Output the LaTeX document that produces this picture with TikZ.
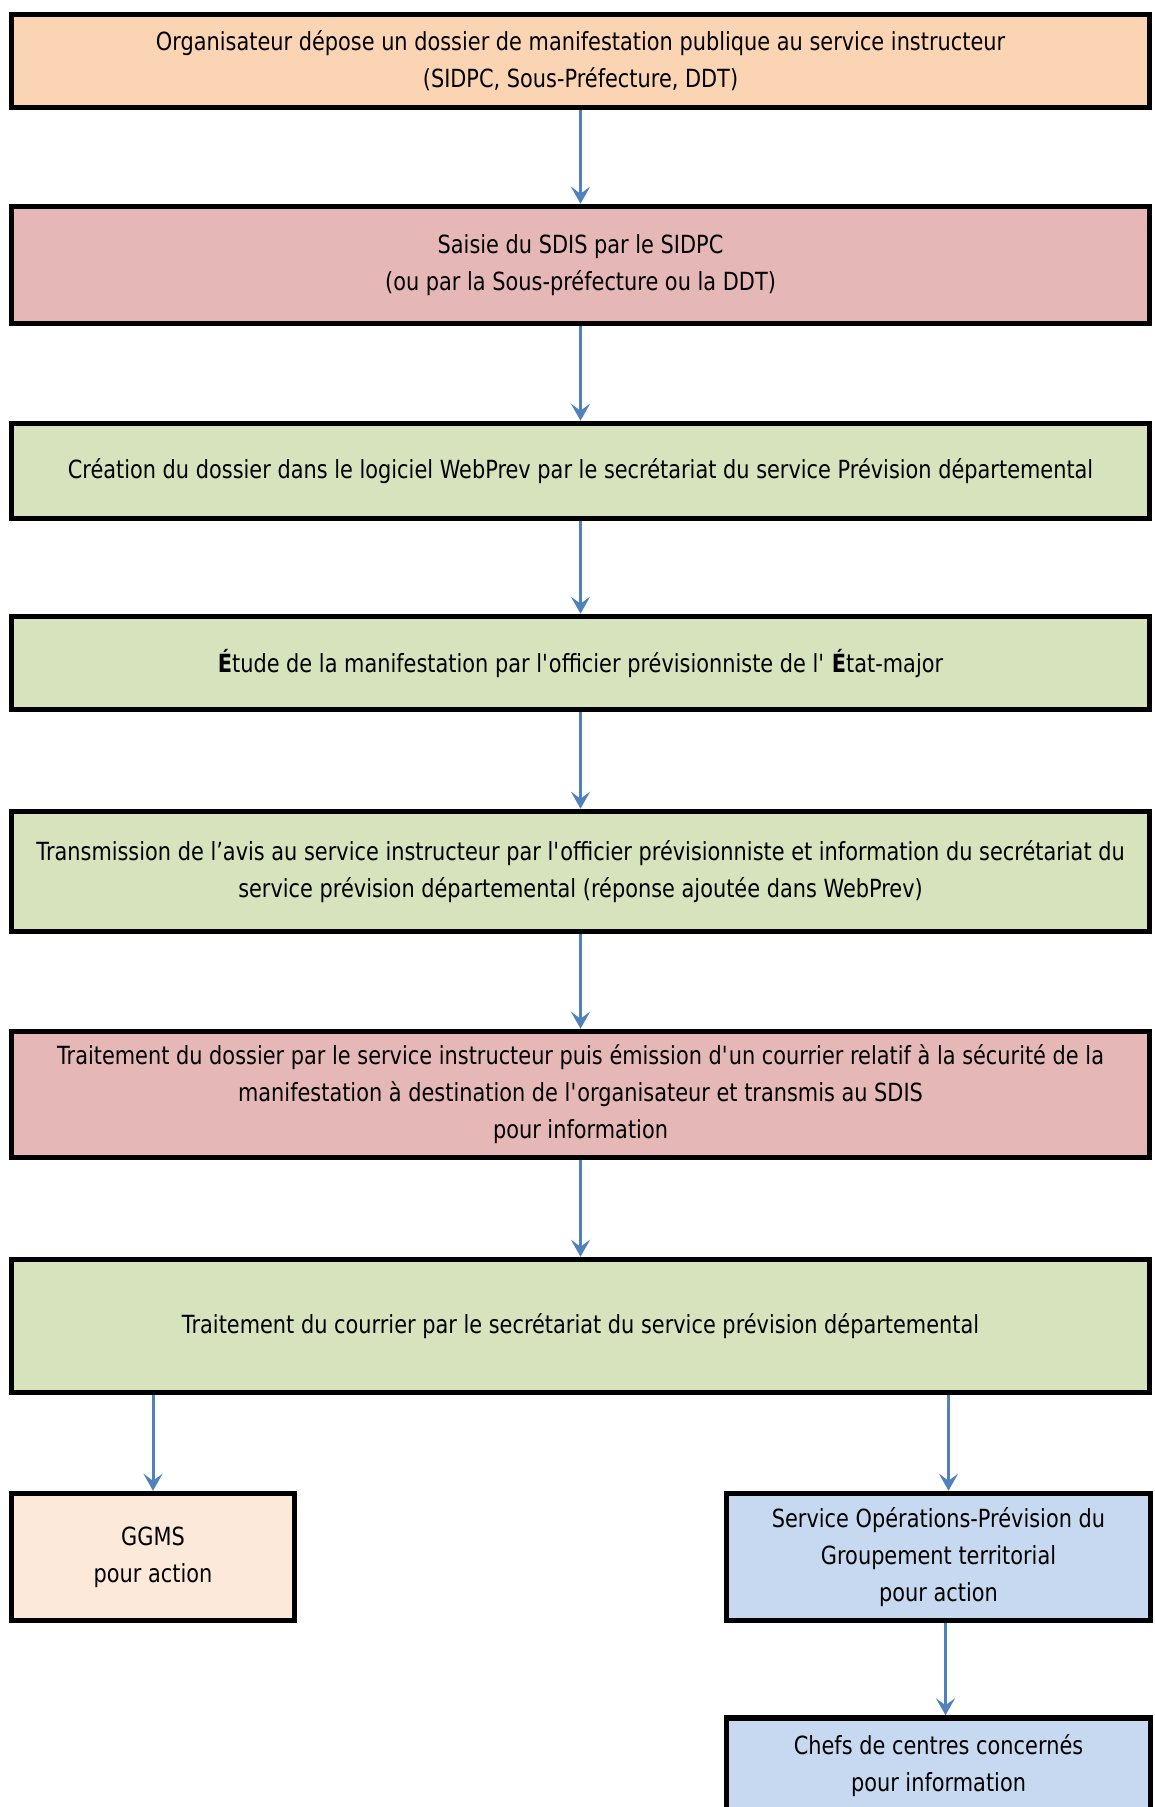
\documentclass[tikz,border=0pt]{standalone}
\usepackage{fontspec}
\setmainfont{DejaVu Sans}[FakeStretch=0.835]
\usetikzlibrary{arrows.meta}
\definecolor{peach}{RGB}{251,212,180}
\definecolor{lightpeach}{RGB}{253,233,217}
\definecolor{rose}{RGB}{229,184,183}
\definecolor{sage}{RGB}{214,227,188}
\definecolor{sky}{RGB}{198,217,241}
\definecolor{arrowblue}{RGB}{79,129,189}
\newcommand\sq{\textquotesingle}

\begin{document}
\begin{tikzpicture}[x=1pt, y=-1pt,
  box/.style={draw, line width=5.5pt, minimum width=1138pt, inner sep=0pt, align=center, font=\fontsize{25}{37}\selectfont},
  arr/.style={-{Stealth[length=17pt, width=19pt, inset=7pt]}, line width=3pt, arrowblue}]
\useasboundingbox (0,0) rectangle (1154,1807);
\node[box, fill=peach, minimum height=93pt] (depot) at (580.5,61) {Organisateur dépose un dossier de manifestation publique au service instructeur\\(SIDPC, Sous-Préfecture, DDT)};
\node[box, fill=rose, minimum height=117pt] (saisie) at (580.5,265) {Saisie du SDIS par le SIDPC\\(ou par la Sous-préfecture ou la DDT)};
\node[box, fill=sage, minimum height=95pt] (creation) at (580.5,471) {Création du dossier dans le logiciel WebPrev par le secrétariat du service Prévision départemental};
\node[box, fill=sage, minimum height=93pt] (etude) at (580.5,663) {\textbf{É}tude de la manifestation par l\sq officier prévisionniste de l\sq{} \textbf{É}tat-major};
\node[box, fill=sage, minimum height=120pt] (avis) at (580.5,871.5) {Transmission de l’avis au service instructeur par l\sq officier prévisionniste et information du secrétariat du\\service prévision départemental (réponse ajoutée dans WebPrev)};
\node[box, fill=rose, minimum height=126pt] (courrier) at (580.5,1094.5) {Traitement du dossier par le service instructeur puis émission d\sq un courrier relatif à la sécurité de la\\manifestation à destination de l\sq organisateur et transmis au SDIS\\pour information};
\node[box, fill=sage, minimum height=133pt] (secretariat) at (580.5,1326) {Traitement du courrier par le secrétariat du service prévision départemental};
\node[box, fill=lightpeach, minimum width=283pt, minimum height=127pt] (ggms) at (153,1557) {GGMS\\pour action};
\node[box, fill=sky, minimum width=424pt, minimum height=127pt] (groupement) at (938.5,1557) {Service Opérations-Prévision du\\Groupement territorial\\pour action};
\node[box, fill=sky, minimum width=424pt, minimum height=95pt] (chefs) at (938.5,1765.5) {Chefs de centres concernés\\pour information};
\draw[arr] (depot) -- (saisie);
\draw[arr] (saisie) -- (creation);
\draw[arr] (creation) -- (etude);
\draw[arr] (etude) -- (avis);
\draw[arr] (avis) -- (courrier);
\draw[arr] (courrier) -- (secretariat);
\draw[arr] (ggms.north |- secretariat.south) -- (ggms.north);
\draw[arr] ([xshift=10pt]groupement.north |- secretariat.south) -- ([xshift=10pt]groupement.north);
\draw[arr] ([xshift=7pt]groupement.south) -- ([xshift=7pt]chefs.north);
\end{tikzpicture}
\end{document}
